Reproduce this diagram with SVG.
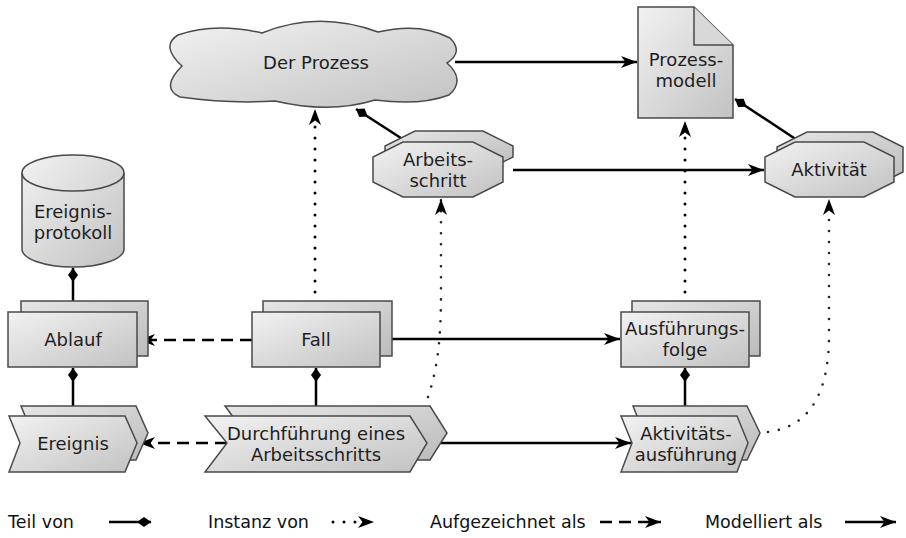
<svg xmlns="http://www.w3.org/2000/svg" width="906" height="538" viewBox="0 0 906 538">
<style>
.n{stroke:#4a4a4a;stroke-width:1.5;fill:url(#g)}
.b{stroke:#4a4a4a;stroke-width:1.5;fill:url(#g2)}
.t{font-family:"DejaVu Sans","Liberation Sans",sans-serif;font-size:18px;fill:#1e1e1e;text-anchor:middle}
.lg{font-family:"DejaVu Sans","Liberation Sans",sans-serif;font-size:17.5px;fill:#111}
.c{fill:none;stroke:#000;stroke-width:2.5}
.d{fill:none;stroke:#000;stroke-width:2.5;stroke-dasharray:12 7}
.o{fill:none;stroke:#000;stroke-width:3;stroke-linecap:round;stroke-dasharray:0 11}
.o2{fill:none;stroke:#222;stroke-width:2.6;stroke-linecap:round;stroke-dasharray:0 11}
</style>
<defs>
<linearGradient id="g" x1="0" y1="0" x2="1" y2="1">
<stop offset="0" stop-color="#f2f2f2"/><stop offset="1" stop-color="#c2c2c2"/>
</linearGradient>
<linearGradient id="g2" x1="0" y1="0" x2="1" y2="1">
<stop offset="0" stop-color="#e6e6e6"/><stop offset="1" stop-color="#bbbbbb"/>
</linearGradient>
<marker id="ar" markerUnits="userSpaceOnUse" markerWidth="17" markerHeight="14" viewBox="0 0 17 14" refX="16" refY="7" orient="auto">
<path d="M0,1 L16,7 L0,13 L4.5,7 Z" fill="#000"/>
</marker>
<marker id="dm" markerUnits="userSpaceOnUse" markerWidth="15" markerHeight="11" viewBox="0 0 15 11" refX="0" refY="5.5" orient="auto">
<path d="M0,5.5 L7,0.5 L14,5.5 L7,10.5 Z" fill="#000"/>
</marker>
<marker id="dme" markerUnits="userSpaceOnUse" markerWidth="15" markerHeight="11" viewBox="0 0 15 11" refX="14" refY="5.5" orient="auto">
<path d="M0,5.5 L7,0.5 L14,5.5 L7,10.5 Z" fill="#000"/>
</marker>
</defs>

<g id="connectors">
<path class="c" d="M455 62 L637 62" marker-end="url(#ar)"/>
<path class="c" d="M356 109 L404 140" marker-start="url(#dm)"/>
<path class="c" d="M513 170 L764 170" marker-end="url(#ar)"/>
<path class="c" d="M735 99 L797 140" marker-start="url(#dm)"/>
<path class="o" d="M315 292 L315 109" marker-end="url(#ar)"/>
<path class="o" d="M685 292 L685 121" marker-end="url(#ar)"/>
<path class="o2" d="M428 397 C439 365 441 330 441 292 L441 199" marker-end="url(#ar)"/>
<path class="o2" d="M768 432 C815 426 829 385 829 335 L829 199" marker-end="url(#ar)"/>
<path class="c" d="M73 268 L73 301" marker-start="url(#dm)"/>
<path class="c" d="M73 368 L73 406" marker-start="url(#dm)"/>
<path class="c" d="M316 368 L316 406" marker-start="url(#dm)"/>
<path class="c" d="M685 368 L685 406" marker-start="url(#dm)"/>
<path class="d" d="M252 340 L139 340" marker-end="url(#ar)"/>
<path class="c" d="M392 339 L620 339" marker-end="url(#ar)"/>
<path class="d" d="M227 443 L139 443" marker-end="url(#ar)"/>
<path class="c" d="M437 443 L631 443" marker-end="url(#ar)"/>
</g>

<g id="prozess">
<path class="n" d="M178 35 Q215 22 262 33 Q318 10 378 32 Q420 22 450 38 Q464 52 447 63 Q466 80 449 95 Q420 106 375 100 Q330 114 275 101 Q230 104 180 97 Q160 88 182 66 Q160 46 178 35 Z"/>
<text class="t" x="316" y="69">Der Prozess</text>
</g>

<g id="prozessmodell">
<path class="n" d="M638 7 L694 7 L733 45 L733 118 L638 118 Z"/>
<path d="M694 7 L694 45 L733 45" fill="#d8d8d8" stroke="#4a4a4a" stroke-width="1.5"/>
<text class="t" x="686" y="66">Prozess-</text>
<text class="t" x="686" y="87">modell</text>
</g>

<g id="arbeitsschritt">
<path class="b" d="M415 131 L483 131 L513 146 L513 157 L483 172 L415 172 L385 157 L385 146 Z"/>
<path class="n" d="M403 142 L473 142 L503 157 L503 182 L473 197 L403 197 L373 182 L373 157 Z"/>
<text class="t" x="438" y="166">Arbeits-</text>
<text class="t" x="438" y="187">schritt</text>
</g>

<g id="aktivitaet">
<path class="b" d="M807 132 L873 132 L903 147 L903 172 L873 187 L807 187 L777 172 L777 147 Z"/>
<path class="n" d="M795 142 L864 142 L894 157 L894 182 L864 197 L795 197 L765 182 L765 157 Z"/>
<text class="t" x="829" y="176">Aktivität</text>
</g>

<g id="ereignisprotokoll">
<path class="n" d="M22 173 A51 18 0 0 1 124 173 L124 249 A51 18 0 0 1 22 249 Z"/>
<path d="M22 173 A51 18 0 0 0 124 173" fill="none" stroke="#4a4a4a" stroke-width="1.5"/>
<text class="t" x="73" y="218">Ereignis-</text>
<text class="t" x="73" y="239">protokoll</text>
</g>

<g id="ablauf">
<rect class="b" x="21" y="301" width="127" height="55"/>
<rect class="n" x="8" y="312" width="129" height="55"/>
<text class="t" x="73" y="346">Ablauf</text>
</g>

<g id="fall">
<rect class="b" x="263" y="301" width="129" height="55"/>
<rect class="n" x="252" y="312" width="128" height="55"/>
<text class="t" x="316" y="346">Fall</text>
</g>

<g id="ausfuehrungsfolge">
<rect class="b" x="632" y="301" width="128" height="55"/>
<rect class="n" x="621" y="312" width="128" height="55"/>
<text class="t" x="685" y="335">Ausführungs-</text>
<text class="t" x="685" y="356">folge</text>
</g>

<g id="ereignis">
<path class="b" d="M21 406 L136 406 L148 433 L136 460 L21 460 L32 433 Z"/>
<path class="n" d="M9 416 L125 416 L137 443 L125 472 L9 472 L20 443 Z"/>
<text class="t" x="73" y="450">Ereignis</text>
</g>

<g id="durchfuehrung">
<path class="b" d="M225 406 L430 406 L447 433 L430 460 L225 460 L245 433 Z"/>
<path class="n" d="M205 416 L410 416 L427 443 L410 472 L205 472 L227 443 Z"/>
<text class="t" x="316" y="440">Durchführung eines</text>
<text class="t" x="316" y="461">Arbeitsschritts</text>
</g>

<g id="aktivitaetsausfuehrung">
<path class="b" d="M633 406 L747 406 L760 433 L747 460 L633 460 L644 433 Z"/>
<path class="n" d="M621 416 L737 416 L748 443 L737 472 L621 472 L632 443 Z"/>
<text class="t" x="686" y="440">Aktivitäts-</text>
<text class="t" x="686" y="461">ausführung</text>
</g>

<g id="legende">
<text class="lg" x="8" y="528">Teil von</text>
<path class="c" d="M109 522 L151 522" marker-end="url(#dme)"/>
<text class="lg" x="208" y="528">Instanz von</text>
<path class="o" d="M333 522 L374 522" marker-end="url(#ar)"/>
<text class="lg" x="430" y="528">Aufgezeichnet als</text>
<path class="d" d="M600 522 L661 522" marker-end="url(#ar)"/>
<text class="lg" x="705" y="528">Modelliert als</text>
<path class="c" d="M845 522 L896 522" marker-end="url(#ar)"/>
</g>
</svg>
